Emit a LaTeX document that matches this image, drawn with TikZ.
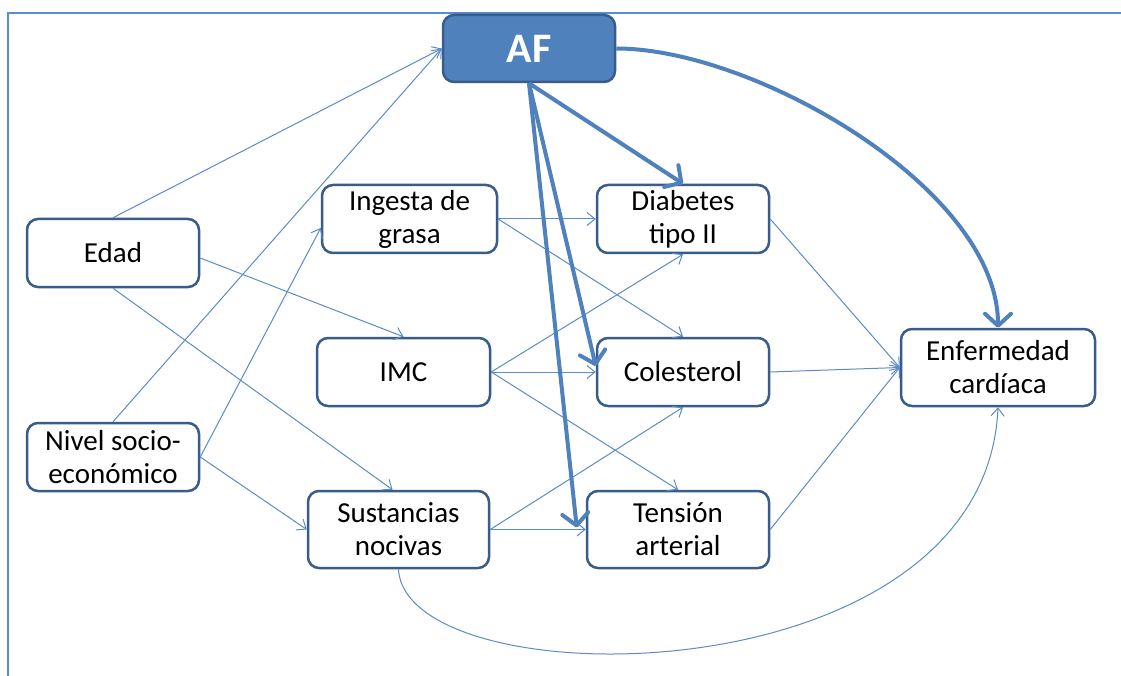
\documentclass[tikz,border=0pt]{standalone}
\usepackage{fontspec}
\setmainfont{Carlito}
\usetikzlibrary{arrows.meta,calc}
\definecolor{framec}{HTML}{558ED5}
\definecolor{boxline}{HTML}{385D8A}
\definecolor{afill}{HTML}{4F81BD}
\definecolor{thinc}{HTML}{5B8CC8}
\begin{document}
\begin{tikzpicture}[x=1pt,y=1pt,
  box/.style={draw=boxline, line width=2.5pt, rounded corners=11pt, fill=white,
    align=center, font=\fontsize{29}{33}\selectfont, inner sep=0pt},
  afbox/.style={box, fill=afill, text=white, font=\fontsize{42}{44}\selectfont\bfseries},
  thinarr/.style={draw=thinc, line width=1pt, -{Straight Barb[length=8pt,width=13pt]}},
  thickarr/.style={draw=afill, line width=4pt, -{Straight Barb[length=12pt,width=26pt,round]}},
]
\useasboundingbox (0,0) rectangle (1121,-676);
\fill[white] (0,0) rectangle (1121,-676);
\draw[framec, line width=2.5pt] (8,-676) -- (8,-13) -- (1121,-13);

\node[afbox, minimum width=172pt, minimum height=67pt] (af) at (529,-48.5) {AF};
\node[box, minimum width=172pt, minimum height=68pt] (edad) at (113,-253) {Edad};
\node[box, minimum width=172pt, minimum height=68pt] (niv) at (113,-457) {Nivel socio-\\económico};
\node[box, minimum width=175pt, minimum height=68pt] (ing) at (409.5,-219) {Ingesta de\\grasa};
\node[box, minimum width=173pt, minimum height=68pt] (imc) at (403.5,-372) {IMC};
\node[box, minimum width=181pt, minimum height=77pt] (sus) at (398.5,-529.5) {Sustancias\\nocivas};
\node[box, minimum width=172pt, minimum height=68pt] (dia) at (683,-219) {Diabetes\\tipo II};
\node[box, minimum width=172pt, minimum height=68pt] (col) at (683,-372) {Colesterol};
\node[box, minimum width=182pt, minimum height=77pt] (ten) at (678,-529.5) {Tensión\\arterial};
\node[box, minimum width=194pt, minimum height=77pt] (enf) at (998,-367.5) {Enfermedad\\cardíaca};

% thin arrows
\draw[thinarr] (edad.north) -- (af.west);
\draw[thinarr] (niv.north) -- (af.west);
\draw[thinarr] ([yshift=-5pt]edad.east) -- (imc.north);
\draw[thinarr] (edad.south) -- ([xshift=-6pt]sus.north);
\draw[thinarr] (niv.east) -- ([yshift=-9pt]ing.west);
\draw[thinarr] (niv.east) -- (sus.west);
\draw[thinarr] (ing.east) -- (dia.west);
\draw[thinarr] (ing.east) -- (col.north);
\draw[thinarr] (imc.east) -- (dia.south);
\draw[thinarr] (imc.east) -- (col.west);
\draw[thinarr] (imc.east) -- (ten.north);
\draw[thinarr] (sus.east) -- (col.south);
\draw[thinarr] (sus.east) -- (ten.west);
\draw[thinarr] (dia.east) -- (enf.west);
\draw[thinarr] (col.east) -- (enf.west);
\draw[thinarr] (ten.east) -- (enf.west);
\draw[thinarr] (sus.south) .. controls ($(sus.south)+(7,-132)$) and ($(enf.south)+(-13,-294)$) .. (enf.south);

% thick arrows
\draw[thickarr] (af.south) -- (dia.north);
\draw[thickarr] (af.south) -- ([yshift=6pt]col.west);
\draw[thickarr] (af.south) -- ([xshift=-9pt,yshift=2pt]ten.west);
\draw[thickarr] (af.east) to[out=0,in=90,looseness=0.75] (enf.north);
\end{tikzpicture}
\end{document}
